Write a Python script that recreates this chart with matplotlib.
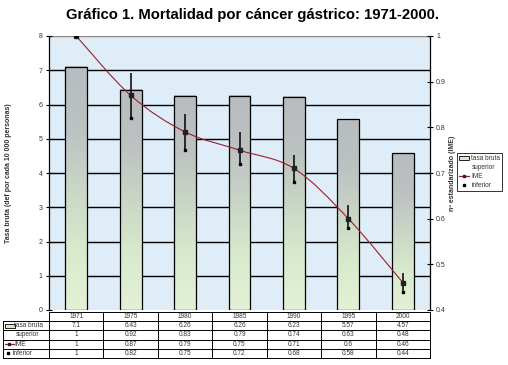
import numpy as np
import matplotlib
matplotlib.use("Agg")
import matplotlib.pyplot as plt
from matplotlib.path import Path
from matplotlib.patches import PathPatch, Rectangle, Patch
from matplotlib.lines import Line2D
from matplotlib.colors import LinearSegmentedColormap

plt.rcParams['font.family'] = ['Liberation Sans', 'DejaVu Sans']

years = ["1971", "1975", "1980", "1985", "1990", "1995", "2000"]
tasa_bruta = [7.1, 6.43, 6.26, 6.26, 6.23, 5.57, 4.57]
superior = [1, 0.92, 0.83, 0.79, 0.74, 0.63, 0.48]
ime = [1, 0.87, 0.79, 0.75, 0.71, 0.6, 0.46]
inferior = [1, 0.82, 0.75, 0.72, 0.68, 0.58, 0.44]
row_names = ["tasa bruta", "superior", "IME", "inferior"]

W, H = 508, 365
fig = plt.figure(figsize=(W / 100, H / 100), dpi=100)
fig.patch.set_facecolor("white")

def fx(px):
    return px / W

def fy(py):
    return 1 - py / H

L, R, T, B = 49, 430, 36, 310
ax = fig.add_axes([fx(L), fy(B), fx(R) - fx(L), fy(T) - fy(B)])
ax.set_facecolor("#deedf8")
n = len(years)
x = np.arange(n)
ax.set_xlim(-0.5, n - 0.5)
ax.set_ylim(0, 8)
ax.set_yticks(range(0, 9))
ax.tick_params(axis='y', direction='inout', length=5, width=0.8, labelsize=5, colors='black', labelcolor='#333333', pad=2)
ax.set_xticks([])
for s in ['top', 'bottom']:
    ax.spines[s].set_visible(False)
ax.spines['left'].set_linewidth(0.9)
ax.spines['right'].set_visible(False)
for yv in range(1, 8):
    ax.axhline(yv, color='black', lw=1.0, zorder=1)
ax.axhline(8, color='#888888', lw=1.0, zorder=1)

# gradient bars
cmap = LinearSegmentedColormap.from_list("g", ["#e3f1d6", "#d8eacd", "#c9d6c6", "#bcc1c2", "#b8bcbe"])
grad = np.linspace(0, 1, 256).reshape(-1, 1)
bw = 0.4
bars = ax.bar(x, tasa_bruta, width=bw, color='none', edgecolor='black', linewidth=0.9, zorder=3)
for b in bars:
    x0, y0 = b.get_x(), b.get_y()
    im = ax.imshow(grad, cmap=cmap, aspect='auto', origin='lower',
                   extent=[x0, x0 + b.get_width(), y0, y0 + b.get_height()], zorder=2)
ax.set_xlim(-0.5, n - 0.5)
ax.set_ylim(0, 8)
ax.set_ylabel("Tasa bruta (def por cada 10 000 personas)", fontsize=5, fontweight='bold', color='#333333', labelpad=19)

ax2 = ax.twinx()
ax2.set_ylim(0.4, 1.0)
ax2.set_yticks([0.4, 0.5, 0.6, 0.7, 0.8, 0.9, 1.0])
ax2.set_yticklabels(["0.4", "0.5", "0.6", "0.7", "0.8", "0.9", "1"])
ax2.tick_params(axis='y', direction='inout', length=5, width=0.8, labelsize=5, colors='black', labelcolor='#333333', pad=2)
for s in ['top', 'bottom', 'left']:
    ax2.spines[s].set_visible(False)
ax2.spines['right'].set_linewidth(0.9)
ax2.set_ylabel("nº estandarizado (IME)", fontsize=5, fontweight='bold', color='#333333', labelpad=2)

# smooth line (Bezier through points)
pts = np.column_stack([x, ime]).astype(float)
verts = [tuple(pts[0])]
codes = [Path.MOVETO]
for i in range(n - 1):
    p0 = pts[i - 1] if i > 0 else pts[i]
    p1 = pts[i]
    p2 = pts[i + 1]
    p3 = pts[i + 2] if i + 2 < n else pts[i + 1]
    c1 = p1 + (p2 - p0) / 6
    c2 = p2 - (p3 - p1) / 6
    verts += [tuple(c1), tuple(c2), tuple(p2)]
    codes += [Path.CURVE4] * 3
ax2.add_patch(PathPatch(Path(verts, codes), facecolor='none', edgecolor='#9e1f2c', lw=0.8, zorder=5))
ax2.vlines(x, inferior, superior, color='black', lw=1.1, zorder=6)
ax2.plot(x, ime, 's', color='#222222', ms=2.2, zorder=7)
ax2.plot(x, inferior, 's', color='black', ms=2, zorder=7)
ax2.set_xlim(-0.5, n - 0.5)

# title
fig.text(fx(252), fy(15), "Gráfico 1. Mortalidad por cáncer gástrico: 1971-2000.", ha='center', va='center',
         fontsize=10.7, fontweight='bold', color='black')

# table
tT, tB = 312, 358
tax = fig.add_axes([fx(L), fy(tB), fx(R) - fx(L), fy(tT) - fy(tB)])
tax.set_xlim(-0.5, n - 0.5)
tax.set_ylim(0, 5)
tax.axis('off')
unit = (R - L) / n
lab_left = -0.5 - (L - 3) / unit

def px2u(px):
    return px / unit

lw = 0.7
kw = dict(color='black', lw=lw, clip_on=False)
tax.plot([-0.5, n - 0.5], [5, 5], **kw)
for k in range(n + 1):
    tax.plot([k - 0.5, k - 0.5], [0, 5], **kw)
for r in range(0, 5):
    tax.plot([lab_left, n - 0.5], [r, r], **kw)
tax.plot([lab_left, lab_left], [0, 4], **kw)
tfs = 4.7
for k, yr in enumerate(years):
    tax.text(k, 4.5, yr, ha='center', va='center', fontsize=tfs, color='#333333')
rows = [tasa_bruta, superior, ime, inferior]
label_x = [14.5, 16, 14, 13]
for r, vals in enumerate(rows):
    yc = 3.5 - r
    for k, v in enumerate(vals):
        tax.text(k, yc, f"{v:g}", ha='center', va='center', fontsize=tfs, color='#333333')
    tax.text(lab_left + px2u(label_x[r] - 3), yc, row_names[r], ha='left', va='center', fontsize=tfs,
             color='#333333', clip_on=False)
# row symbols
tax.add_patch(Rectangle((lab_left + px2u(2), 3.25), px2u(10), 0.5, facecolor='#d8ecc8', edgecolor='black',
                        lw=0.6, clip_on=False))
tax.plot([lab_left + px2u(2), lab_left + px2u(11)], [1.5, 1.5], color='#9e1f2c', lw=0.9, clip_on=False)
tax.plot([lab_left + px2u(6.5)], [1.5], 's', color='#222222', ms=2, clip_on=False)
tax.plot([lab_left + px2u(5)], [0.5], 's', color='black', ms=1.8, clip_on=False)

# legend
handles = [Patch(facecolor='#d8ecc8', edgecolor='black', lw=0.6),
           Line2D([], [], color='none'),
           Line2D([], [], color='#9e1f2c', lw=0.9, marker='s', ms=2, mfc='#222222', mec='#222222'),
           Line2D([], [], color='none', marker='s', ms=1.8, mfc='black', mec='black')]
leg = fig.legend(handles, row_names, loc='upper left', bbox_to_anchor=(fx(457), fy(153)),
                 fontsize=4.7, frameon=True, fancybox=False, edgecolor='black', handlelength=1.6,
                 handleheight=0.6, handletextpad=0.3, borderpad=0.3, labelspacing=0.3, borderaxespad=0)
leg.get_frame().set_linewidth(0.7)
for t in leg.get_texts():
    t.set_color('#333333')

fig.savefig("out.png", dpi=100, facecolor='white')
